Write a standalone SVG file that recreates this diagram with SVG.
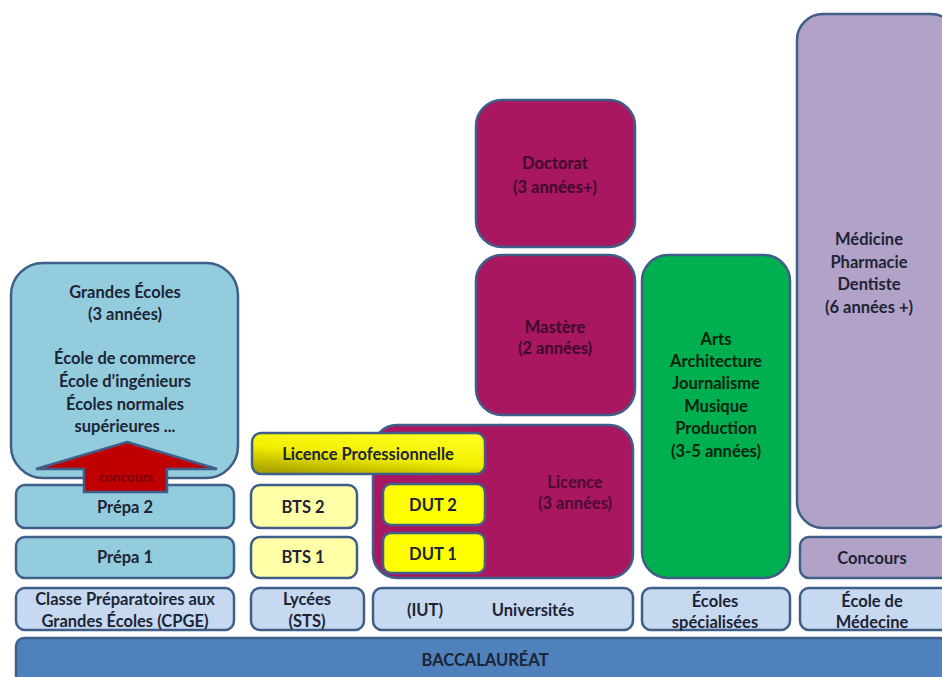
<svg xmlns="http://www.w3.org/2000/svg" width="942" height="677" viewBox="0 0 942 677">
<defs>
<linearGradient id="gPro" x1="0.75" y1="0" x2="0.25" y2="1">
<stop offset="0" stop-color="#ffff20"/>
<stop offset="0.55" stop-color="#f2ee00"/>
<stop offset="1" stop-color="#aaa400"/>
</linearGradient>
</defs>
<style>
.bx{stroke:#3f5e88;stroke-width:2.5}
.lb{fill:#93cddd}
.base{fill:#c6d9f1}
.mag{fill:#a8175f}
.yel{fill:#ffff00}
.bts{fill:#ffffa8}
.grn{fill:#00b050}
.pur{fill:#b3a2c7}
text{font-family:Lato,"Liberation Sans",sans-serif;font-weight:bold;font-size:16.5px;text-anchor:middle;fill:#1d2435}
.tm{fill:#3e0a2b}
.tl{fill:#4a0c33}
.tg{fill:#06240e}
.tr{fill:#7a0010;font-size:13.5px}
</style>
<rect width="942" height="677" fill="#ffffff"/>

<g id="baccalaureat">
<rect class="bx" x="16" y="638" width="940" height="50" rx="8" fill="#4f81bd"/>
<text x="485" y="666">BACCALAURÉAT</text>
</g>

<g id="grandes-ecoles">
<rect class="bx lb" x="11" y="263" width="227" height="215" rx="32"/>
<text x="125" y="298">Grandes Écoles</text>
<text x="125" y="320">(3 années)</text>
<text x="125" y="364">École de commerce</text>
<text x="125" y="387">École d’ingénieurs</text>
<text x="125" y="410">Écoles normales</text>
<text x="125" y="432">supérieures ...</text>
</g>

<g id="prepa2">
<rect class="bx lb" x="16" y="485" width="218" height="43" rx="9"/>
<text x="125" y="513">Prépa 2</text>
</g>
<g id="prepa1">
<rect class="bx lb" x="16" y="537" width="218" height="41" rx="9"/>
<text x="125" y="563">Prépa 1</text>
</g>
<g id="cpge">
<rect class="bx base" x="16" y="588" width="218" height="42" rx="9"/>
<text x="125" y="605">Classe Préparatoires aux</text>
<text x="125" y="627">Grandes Écoles (CPGE)</text>
</g>

<g id="connectors">
<polygon class="bx" fill="#c00000" points="127,442 217,469 167,469 167,492 84,492 84,469 36,469"/>
<text class="tr" x="126" y="482">concours</text>
</g>

<g id="bts2">
<rect class="bx bts" x="251" y="485" width="106" height="43" rx="9"/>
<text x="303" y="513">BTS 2</text>
</g>
<g id="bts1">
<rect class="bx bts" x="251" y="537" width="106" height="41" rx="9"/>
<text x="303" y="563">BTS 1</text>
</g>
<g id="lycees">
<rect class="bx base" x="251" y="588" width="113" height="42" rx="9"/>
<text x="307" y="605">Lycées</text>
<text x="307" y="627">(STS)</text>
</g>

<g id="licence">
<rect class="bx mag" x="373" y="425" width="260" height="153" rx="24"/>
<text class="tl" x="575" y="488">Licence</text>
<text class="tl" x="575" y="509">(3 années)</text>
</g>
<g id="licence-pro">
<rect class="bx" fill="url(#gPro)" x="252" y="433" width="233" height="41" rx="9"/>
<text x="368" y="460">Licence Professionnelle</text>
</g>
<g id="dut2">
<rect class="bx yel" x="383" y="484" width="102" height="41" rx="8"/>
<text x="433" y="511">DUT 2</text>
</g>
<g id="dut1">
<rect class="bx yel" x="383" y="533" width="102" height="40" rx="8"/>
<text x="433" y="560">DUT 1</text>
</g>
<g id="universites">
<rect class="bx base" x="373" y="588" width="260" height="42" rx="9"/>
<text x="425" y="616">(IUT)</text>
<text x="533" y="616">Universités</text>
</g>

<g id="doctorat">
<rect class="bx mag" x="476" y="100" width="159" height="147" rx="26"/>
<text class="tm" x="555" y="169">Doctorat</text>
<text class="tm" x="555" y="193">(3 années+)</text>
</g>
<g id="mastere">
<rect class="bx mag" x="476" y="255" width="159" height="160" rx="26"/>
<text class="tm" x="555" y="333">Mastère</text>
<text class="tm" x="555" y="354">(2 années)</text>
</g>

<g id="ecoles-art">
<rect class="bx grn" x="642" y="255" width="148" height="323" rx="26"/>
<text class="tg" x="716" y="345">Arts</text>
<text class="tg" x="716" y="367">Architecture</text>
<text class="tg" x="716" y="389">Journalisme</text>
<text class="tg" x="716" y="412">Musique</text>
<text class="tg" x="716" y="434">Production</text>
<text class="tg" x="716" y="457">(3-5 années)</text>
</g>
<g id="ecoles-specialisees">
<rect class="bx base" x="642" y="588" width="148" height="42" rx="9"/>
<text x="715" y="607">Écoles</text>
<text x="715" y="628">spécialisées</text>
</g>

<g id="medecine">
<rect class="bx pur" x="797" y="14" width="160" height="514" rx="26"/>
<text x="869" y="245">Médicine</text>
<text x="869" y="268">Pharmacie</text>
<text x="869" y="290">Dentiste</text>
<text x="869" y="313">(6 années +)</text>
</g>
<g id="concours-med">
<rect class="bx pur" x="800" y="537" width="157" height="41" rx="9"/>
<text x="872" y="564">Concours</text>
</g>
<g id="ecole-medecine">
<rect class="bx base" x="800" y="588" width="157" height="42" rx="9"/>
<text x="872" y="607">École de</text>
<text x="872" y="628">Médecine</text>
</g>
</svg>
